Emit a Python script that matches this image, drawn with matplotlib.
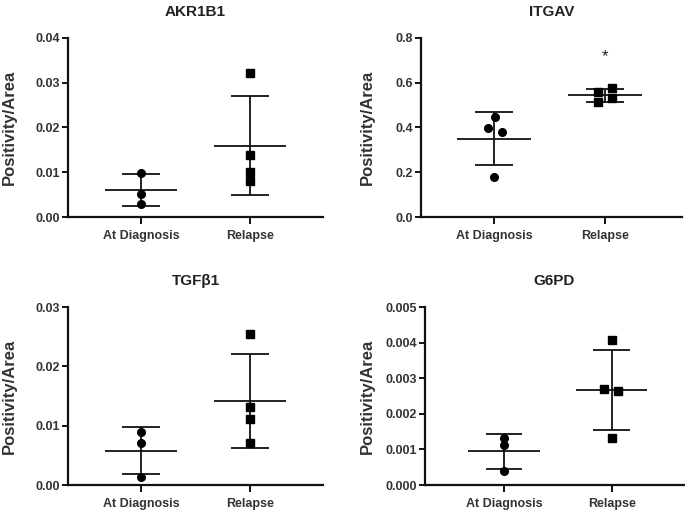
import numpy as np
import matplotlib
matplotlib.use("Agg")
import matplotlib.pyplot as plt
from matplotlib.ticker import FormatStrFormatter

plt.rcParams['font.family'] = ['Liberation Sans', 'DejaVu Sans']

# Data (Positivity/Area per sample)
groups = ["At Diagnosis", "Relapse"]
titles = ["AKR1B1", "ITGAV", "TGF\u03b21", "G6PD"]

akr_diag = [0.0099, 0.0051, 0.0029]
akr_rel = [0.0321, 0.0138, 0.0100, 0.0080]
itgav_diag = [0.446, 0.398, 0.378, 0.177]
itgav_rel = [0.557, 0.575, 0.513, 0.530]
tgf_diag = [0.00888, 0.00713, 0.00129]
tgf_rel = [0.0254, 0.0131, 0.01107, 0.00713]
g6pd_diag = [0.00133, 0.00112, 0.00039]
g6pd_rel = [0.00407, 0.00269, 0.00263, 0.00131]

# y axis ranges / ticks
ymax = [0.04, 0.8, 0.03, 0.005]
ystep = [0.01, 0.2, 0.01, 0.001]
yfmt = ['%.2f', '%.1f', '%.2f', '%.3f']

# significance marks (panel, group, y)
stars = [(1, 1, 0.716)]

# horizontal spread of the dots (in category units)
spread = [
    ([0, 0, 0], [0, 0, 0, 0]),
    ([0.01, -0.055, 0.075, 0.0], [-0.065, 0.065, -0.065, 0.065]),
    ([0, 0, 0], [0, 0, 0, 0]),
    ([0, 0, 0], [0, -0.068, 0.062, 0]),
]

data = [(akr_diag, akr_rel), (itgav_diag, itgav_rel),
        (tgf_diag, tgf_rel), (g6pd_diag, g6pd_rel)]

# axes boxes in pixels: left, right, top, bottom, xlim
W, H = 685, 511
boxes = [
    (68, 323, 38, 217, (-0.67, 1.67)),
    (421, 682, 38, 217, (-0.658, 1.694)),
    (68, 323, 307, 485, (-0.67, 1.67)),
    (425, 684, 307, 485, (-0.733, 1.67)),
]
ylab_x = [-0.231, -0.207, -0.231, -0.224]

fig = plt.figure(figsize=(W / 100, H / 100), dpi=100)
markers = ['o', 's']

for i, (vals, box) in enumerate(zip(data, boxes)):
    l, r, t, b, xlim = box
    ax = fig.add_axes([l / W, 1 - b / H, (r - l) / W, (b - t) / H])
    for g in range(2):
        v = np.array(vals[g])
        m = v.mean()
        sd = v.std(ddof=1)
        xs = g + np.array(spread[i][g])
        ax.plot(xs, v, linestyle='none', marker=markers[g], color='black',
                markersize=5.5 if g == 0 else 5.2, zorder=3, clip_on=False)
        ax.hlines(m, g - 0.33, g + 0.33, color='#111111', lw=1.3, zorder=2)
        ax.hlines([m - sd, m + sd], g - 0.17, g + 0.17, color='#111111', lw=1.3, zorder=2)
        ax.vlines(g, m - sd, m + sd, color='#111111', lw=1.3, zorder=2)

    for (p, g, y) in stars:
        if p == i:
            ax.text(g, y, '*', ha='center', va='center', fontsize=12, color='#222222')

    ax.set_xlim(*xlim)
    ax.set_ylim(0, ymax[i])
    ax.set_yticks(np.arange(0, ymax[i] + ystep[i] / 2, ystep[i]))
    ax.yaxis.set_major_formatter(FormatStrFormatter(yfmt[i]))
    ax.set_xticks([0, 1])
    ax.set_xticklabels(groups)
    for s in ['top', 'right']:
        ax.spines[s].set_visible(False)
    for s in ['left', 'bottom']:
        ax.spines[s].set_linewidth(1.6)
        ax.spines[s].set_color('#111111')
    ax.tick_params(axis='both', width=1.4, length=4, colors='#111111',
                   labelcolor='#333333', labelsize=9, pad=2)
    ax.tick_params(axis='x', length=5, pad=4)
    for lab in ax.get_xticklabels() + ax.get_yticklabels():
        lab.set_fontweight('bold')
    ax.set_ylabel('Positivity/Area', fontsize=12, fontweight='bold',
                  color='#333333', va='center')
    ax.yaxis.set_label_coords(ylab_x[i], 0.5)
    ax.set_title(titles[i], fontsize=11, fontweight='bold', color='#222222', pad=16)

fig.savefig('out.png', dpi=100)
